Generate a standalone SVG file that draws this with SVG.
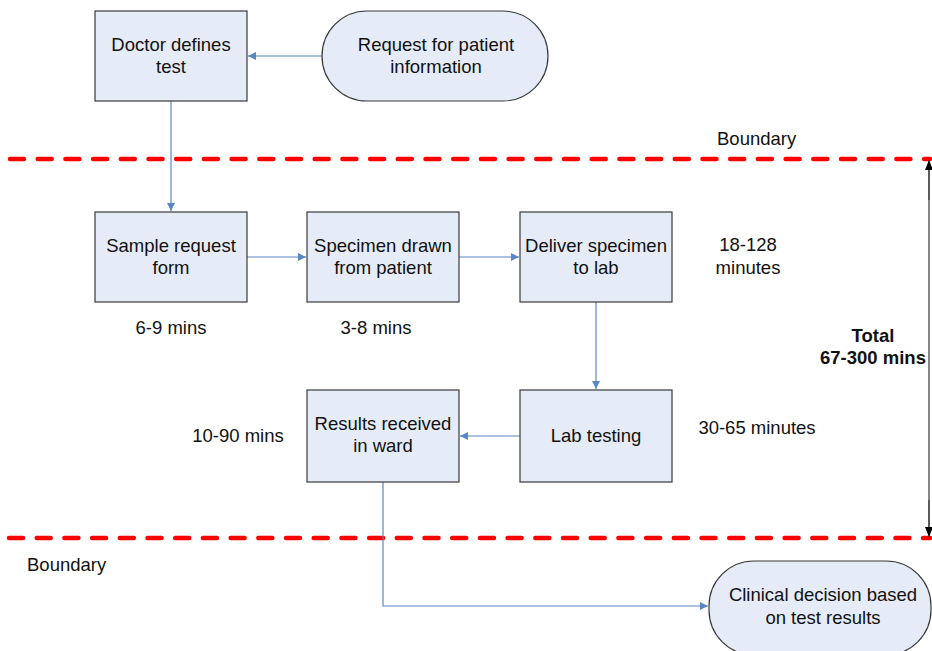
<svg xmlns="http://www.w3.org/2000/svg" width="932" height="651" viewBox="0 0 932 651">
<defs>
<style>
.box{fill:#E6ECF7;stroke:#3a3a3a;stroke-width:1.2}
.t{font-family:"Liberation Sans",Arial,sans-serif;font-size:18.5px;fill:#111;text-anchor:middle}
.tl{font-family:"Liberation Sans",Arial,sans-serif;font-size:18.5px;fill:#111}
.b{font-weight:bold}
.c{fill:none;stroke:#5B86C5;stroke-width:1.2}
.bd{fill:none;stroke:#FF0000;stroke-width:4.5;stroke-linecap:round;stroke-dasharray:14 13.7}
.dim{fill:none;stroke:#444;stroke-width:1.3}
</style>
<marker id="ah" viewBox="0 0 10 10" refX="10" refY="5" markerWidth="8" markerHeight="8" markerUnits="userSpaceOnUse" orient="auto">
<path d="M0,0 L10,5 L0,10 z" fill="#5B86C5"/>
</marker>
<marker id="dk" viewBox="0 0 10 10" refX="10" refY="5" markerWidth="10" markerHeight="10" markerUnits="userSpaceOnUse" orient="auto">
<path d="M0,1 L10,5 L0,9 z" fill="#000"/>
</marker>
</defs>
<rect width="932" height="651" fill="#fff"/>

<g id="boundaries">
<line class="bd" x1="10" y1="159" x2="930" y2="159"/>
<line class="bd" x1="9" y1="538" x2="930" y2="538"/>
<text class="tl" x="717" y="144.5">Boundary</text>
<text class="tl" x="27" y="570.5">Boundary</text>
</g>

<g id="connectors">
<line class="c" x1="322" y1="56" x2="248" y2="56" marker-end="url(#ah)"/>
<line class="c" x1="171" y1="101" x2="171" y2="211" marker-end="url(#ah)"/>
<line class="c" x1="247" y1="257" x2="306" y2="257" marker-end="url(#ah)"/>
<line class="c" x1="459" y1="257" x2="519" y2="257" marker-end="url(#ah)"/>
<line class="c" x1="596" y1="302" x2="596" y2="389" marker-end="url(#ah)"/>
<line class="c" x1="520" y1="436" x2="460" y2="436" marker-end="url(#ah)"/>
<polyline class="c" points="383,482 383,606 708,606" marker-end="url(#ah)"/>
</g>

<g id="total">
<line class="dim" x1="929" y1="170" x2="929" y2="527"/>
<line class="dim" x1="929" y1="200" x2="929" y2="160" marker-end="url(#dk)"/>
<line class="dim" x1="929" y1="500" x2="929" y2="537" marker-end="url(#dk)"/>
<text class="t b" x="873" y="341.5">Total</text>
<text class="t b" x="873" y="363.5">67-300 mins</text>
</g>

<g id="doctor">
<rect class="box" x="95" y="11" width="152" height="90"/>
<text class="t" x="171" y="50.5">Doctor defines</text>
<text class="t" x="171" y="72.5">test</text>
</g>

<g id="request">
<rect class="box" x="322" y="11" width="226" height="90" rx="45" ry="45"/>
<text class="t" x="436" y="50.5">Request for patient</text>
<text class="t" x="436" y="72.5">information</text>
</g>

<g id="sample">
<rect class="box" x="95" y="212" width="152" height="90"/>
<text class="t" x="171" y="251.5">Sample request</text>
<text class="t" x="171" y="273.5">form</text>
<text class="t" x="171" y="333.5">6-9 mins</text>
</g>

<g id="specimen">
<rect class="box" x="307" y="212" width="152" height="90"/>
<text class="t" x="383" y="251.5">Specimen drawn</text>
<text class="t" x="383" y="273.5">from patient</text>
<text class="t" x="376" y="333.5">3-8 mins</text>
</g>

<g id="deliver">
<rect class="box" x="520" y="212" width="152" height="90"/>
<text class="t" x="596" y="251.5">Deliver specimen</text>
<text class="t" x="596" y="273.5">to lab</text>
<text class="t" x="748" y="250.5">18-128</text>
<text class="t" x="748" y="273.5">minutes</text>
</g>

<g id="lab">
<rect class="box" x="520" y="390" width="152" height="92"/>
<text class="t" x="596" y="441.5">Lab testing</text>
<text class="t" x="757" y="433.5">30-65 minutes</text>
</g>

<g id="results">
<rect class="box" x="307" y="390" width="152" height="92"/>
<text class="t" x="383" y="429.5">Results received</text>
<text class="t" x="383" y="451.5">in ward</text>
<text class="t" x="238" y="441.5">10-90 mins</text>
</g>

<g id="clinical">
<rect class="box" x="709" y="561" width="222" height="94" rx="45" ry="45"/>
<text class="t" x="823" y="600.5">Clinical decision based</text>
<text class="t" x="823" y="623.5">on test results</text>
</g>
</svg>
